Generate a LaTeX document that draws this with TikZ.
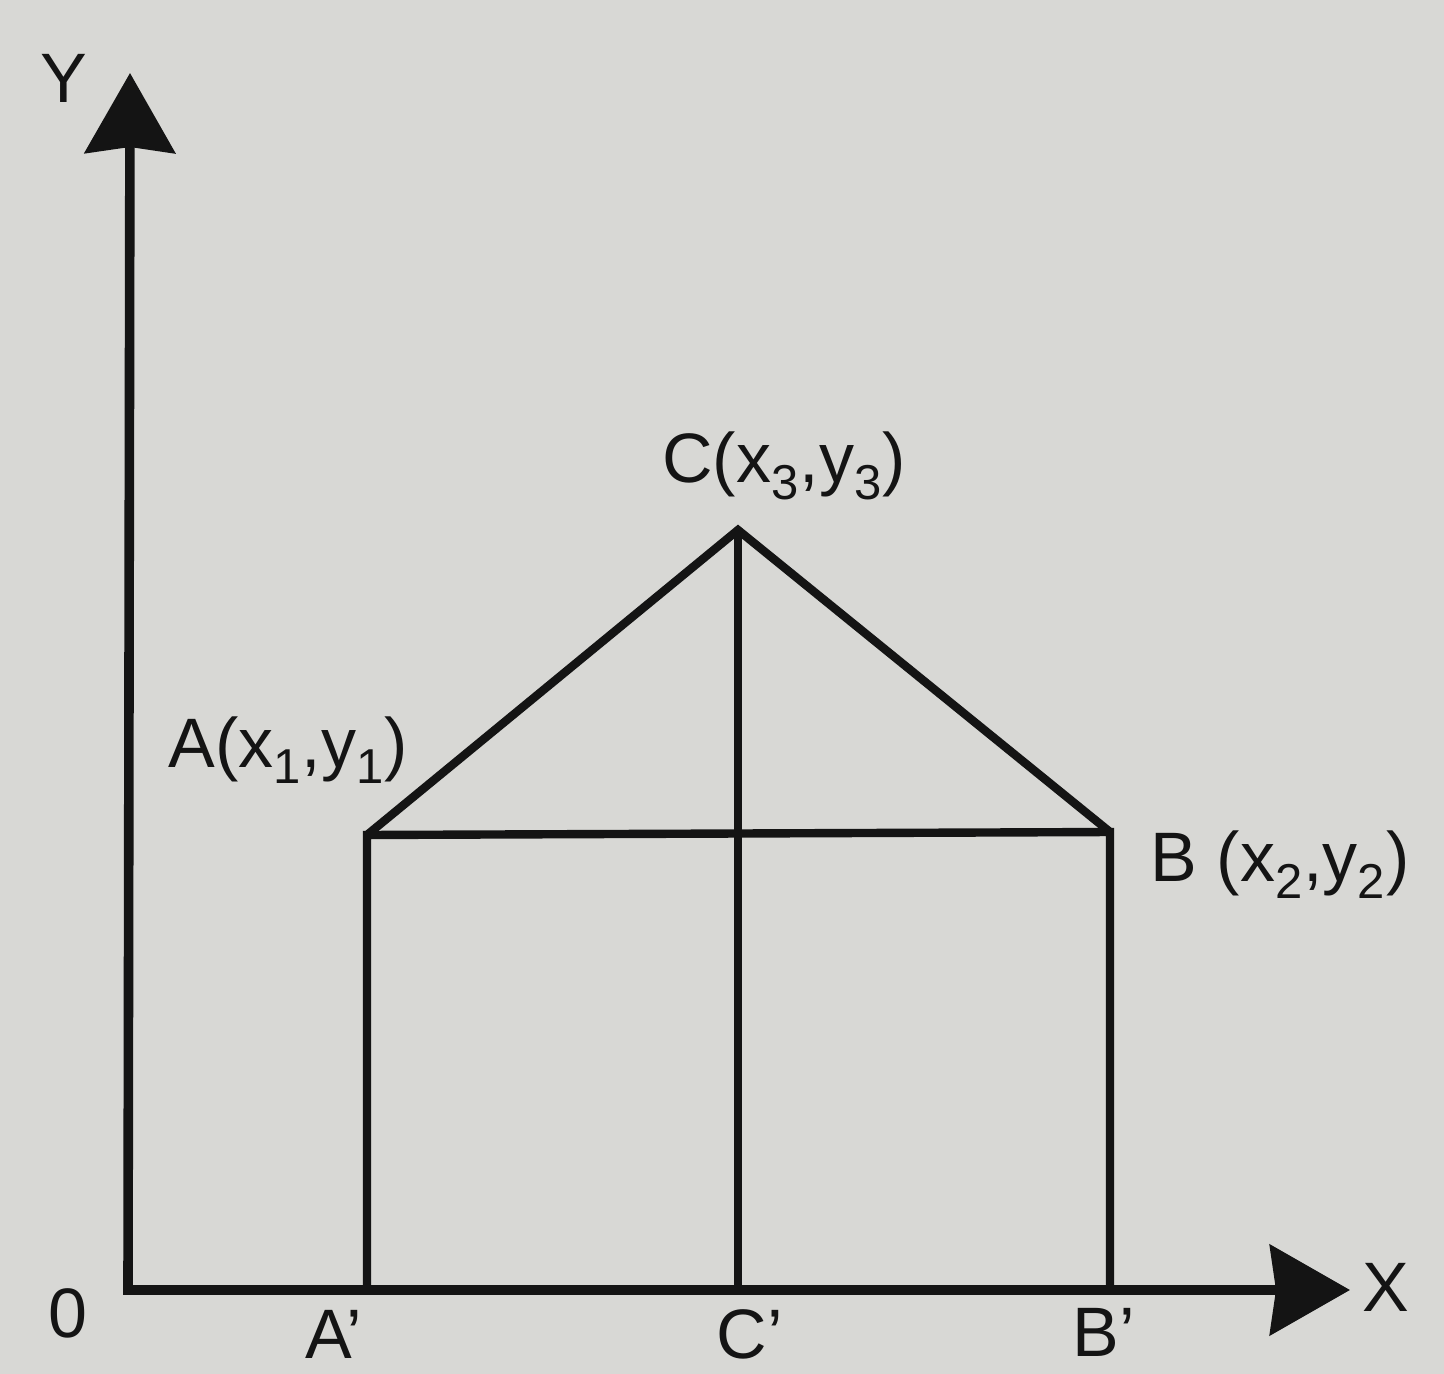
\documentclass[tikz,border=0pt]{standalone}
\usepackage{fontspec}
\setmainfont{Liberation Sans}
\usetikzlibrary{arrows.meta}
\definecolor{paper}{RGB}{216,216,213}
\definecolor{ink}{RGB}{20,20,20}
\tikzset{
  axis/.style={draw=ink, line width=4.8pt, line join=miter,
    {Stealth[length=40pt,width=45pt,inset=3pt]}-{Stealth[length=40pt,width=45pt,inset=3pt]}},
  edge/.style={draw=ink, line width=4.2pt, line join=miter},
  lbl/.style={text=ink, inner sep=0pt, font=\fontsize{35}{40}\selectfont},
}
\newcommand{\sbx}[1]{\textsubscript{#1}}
\begin{document}
\begin{tikzpicture}[x=0.5pt,y=-0.5pt]
\fill[paper] (0,0) rectangle (1444,1374);
\useasboundingbox (0,0) rectangle (1444,1374);
\coordinate (O) at (128,1290);
\coordinate (Yt) at (130,73);
\coordinate (Xt) at (1350,1290);
\coordinate (A) at (367,835);
\coordinate (Ap) at (367,1290);
\coordinate (B) at (1110,832);
\coordinate (Bp) at (1110,1290);
\coordinate (C) at (738,530);
\coordinate (Cp) at (738,1290);
% axes
\draw[axis] (Yt) -- (O) -- (Xt);
% house
\draw[edge] (Ap) -- (A) -- (B) -- (Bp);
\draw[edge] (A) -- (C) -- (B);
\draw[edge] (C) -- (Cp);
% labels
\node[lbl] (ly) at (64,78) {Y};
\node[lbl] (lx) at (1386,1287) {X};
\node[lbl] (lo) at (68,1313) {0};
\node[lbl] (lap) at (334,1334) {A'};
\node[lbl] (lcp) at (750,1334) {C'};
\node[lbl] (lbp) at (1104,1332) {B'};
\node[lbl] (lc) at (784,466) {C(x\sbx{3},y\sbx{3})};
\node[lbl] (la) at (288,750) {A(x\sbx{1},y\sbx{1})};
\node[lbl] (lb) at (1280,865) {B (x\sbx{2},y\sbx{2})};
\end{tikzpicture}
\end{document}
